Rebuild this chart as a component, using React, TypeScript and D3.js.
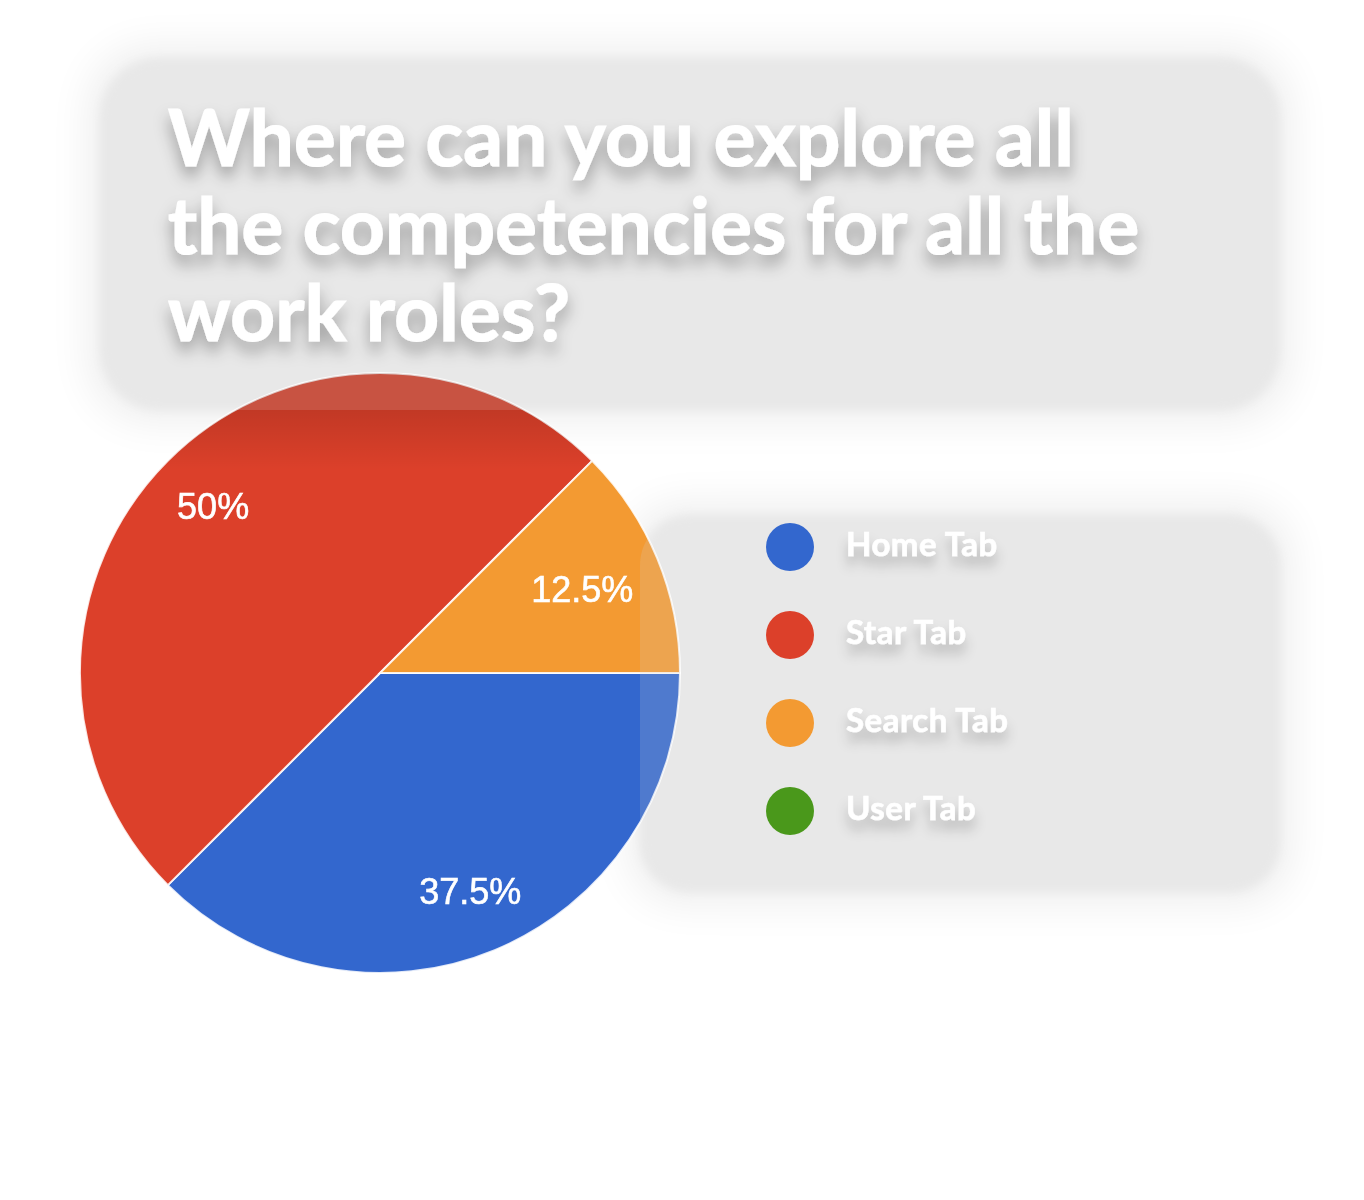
import React, { useEffect } from 'react';
import * as d3 from 'd3';

// chart data
const categories = ['Home Tab', 'Star Tab', 'Search Tab', 'User Tab'];
const shares = [37.5, 50, 12.5, 0];
const sliceColors = ['#3367ce', '#dc402a', '#f39a32', '#4a981b'];
const titleLines = ['Where can you explore all', 'the competencies for all the', 'work roles?'];

const W = 1364;
const H = 1200;
const LABEL_SIZE = 36;

// rough Arial advance widths, enough to keep a label inside its slice
const glyphWidth = (ch: string) => (ch === '.' ? 0.278 : ch === '%' ? 0.889 : 0.556);
const labelWidth = (s: string) => s.split('').reduce((a, c) => a + glyphWidth(c), 0) * LABEL_SIZE;

export default function App() {
  useEffect(() => {
    document.body.style.margin = '0';
  }, []);

  const cx = 380;
  const cy = 673;
  const radius = 300;

  const pie = d3.pie<number>()
    .value((d) => d)
    .sort(null)
    .startAngle(Math.PI / 2)
    .endAngle(Math.PI / 2 + Math.PI * 2);
  const slices = pie(shares);

  const arc = d3.arc<d3.PieArcDatum<number>>().innerRadius(0).outerRadius(radius);
  const disc = d3.arc()({ innerRadius: 0, outerRadius: radius, startAngle: 0, endAngle: Math.PI * 2 }) || '';

  // label sits on the bisector, pulled inwards until its box clears the rim
  const labelPos = (s: d3.PieArcDatum<number>, text: string) => {
    const mid = (s.startAngle + s.endAngle) / 2;
    const w = labelWidth(text);
    const h = LABEL_SIZE * 0.72;
    let t = radius * 0.79;
    const far = (tt: number) => {
      const x = Math.sin(mid) * tt;
      const y = -Math.cos(mid) * tt;
      return Math.max(
        ...[[-1, -1], [-1, 1], [1, -1], [1, 1]].map(([a, b]) => Math.hypot(x + (a * w) / 2, y + (b * h) / 2))
      );
    };
    while (far(t) > radius * 0.905 && t > 100) t -= 1;
    return [Math.sin(mid) * t, -Math.cos(mid) * t];
  };

  // legend rows
  const legendY = d3.scalePoint<string>().domain(categories).range([547, 811]);

  const titlePanel = { x: 100, y: 58, w: 1180, h: 352, r: 60 };
  const legendPanel = { x: 640, y: 515, w: 640, h: 377, r: 50 };

  return (
    <svg width={W} height={H} viewBox={`0 0 ${W} ${H}`} style={{ display: 'block' }}>
      <defs>
        <filter id="halo" x="-20%" y="-30%" width="140%" height="160%">
          <feGaussianBlur stdDeviation="22" />
        </filter>
        <filter id="soft" x="-10%" y="-10%" width="120%" height="120%">
          <feGaussianBlur stdDeviation="5" />
        </filter>
        <filter id="textShadow" x="-10%" y="-30%" width="120%" height="180%">
          <feDropShadow dx="0" dy="10" stdDeviation="8" floodColor="#000" floodOpacity="0.32" />
        </filter>
        <filter id="legendShadow" x="-10%" y="-40%" width="120%" height="200%">
          <feDropShadow dx="0" dy="10" stdDeviation="6" floodColor="#000" floodOpacity="0.22" />
        </filter>
        <filter id="labelBlur">
          <feGaussianBlur stdDeviation="0.6" />
        </filter>
        <clipPath id="pieClip">
          <path d={disc} transform={`translate(${cx},${cy})`} />
        </clipPath>
        <linearGradient id="panelShade" x1="0" y1="0" x2="0" y2="1">
          <stop offset="0" stopColor="#000" stopOpacity={0.12} />
          <stop offset="1" stopColor="#000" stopOpacity={0} />
        </linearGradient>
      </defs>

      <rect width={W} height={H} fill="#ffffff" />

      {/* panels behind the chart */}
      {[titlePanel, legendPanel].map((p, i) => (
        <g key={i}>
          <rect x={p.x - 10} y={p.y - 10} width={p.w + 20} height={p.h + 20} rx={p.r}
            fill="#000" opacity={0.07} filter="url(#halo)" />
          <rect x={p.x} y={p.y} width={p.w} height={p.h} rx={p.r}
            fill="#e8e8e8" filter="url(#soft)" />
        </g>
      ))}

      {/* pie */}
      <g transform={`translate(${cx},${cy})`}>
        {slices.map((s, i) => (
          <path key={categories[i]} d={arc(s) || ''} fill={sliceColors[i]}
            stroke="#ffffff" strokeWidth={s.value > 0 ? 2 : 0} strokeOpacity={0.85} />
        ))}
      </g>

      {/* frosted overlays of the panels where they cross the pie */}
      <g clipPath="url(#pieClip)">
        <rect x={titlePanel.x} y={titlePanel.y} width={titlePanel.w} height={titlePanel.h} rx={titlePanel.r}
          fill="#8a8a8a" opacity={0.25} />
        <rect x={titlePanel.x} y={titlePanel.y + titlePanel.h} width={titlePanel.w} height={60}
          fill="url(#panelShade)" />
        <rect x={legendPanel.x} y={legendPanel.y} width={legendPanel.w} height={legendPanel.h} rx={legendPanel.r}
          fill="#d4d4d4" opacity={0.18} />
      </g>

      {/* slice labels */}
      <g transform={`translate(${cx},${cy})`} filter="url(#labelBlur)">
        {slices.filter((s) => s.value > 0).map((s) => {
          const text = `${s.value}%`;
          const [lx, ly] = labelPos(s, text);
          return (
            <text key={s.index} x={lx} y={ly} dy="0.36em" textAnchor="middle"
              fontFamily="'Liberation Sans', Arial, sans-serif" fontSize={LABEL_SIZE} fill="#ffffff"
              stroke="#ffffff" strokeWidth={0.6}>
              {text}
            </text>
          );
        })}
      </g>

      {/* title */}
      <g filter="url(#textShadow)">
        {titleLines.map((line, i) => (
          <text key={i} x={168} y={166 + i * 87.5} fontFamily="Lato, sans-serif" fontWeight={700}
            fontSize={78} letterSpacing={0.3} fill="#ffffff" stroke="#ffffff" strokeWidth={1.2}>
            {line}
          </text>
        ))}
      </g>

      {/* legend */}
      <g>
        {categories.map((c, i) => (
          <g key={c} transform={`translate(0,${legendY(c)})`}>
            <circle cx={790} cy={0} r={24} fill={sliceColors[i]} />
            <text x={846} y={9} fontFamily="Lato, sans-serif" fontWeight={700} fontSize={33}
              letterSpacing={0.5} fill="#ffffff" stroke="#ffffff" strokeWidth={0.6}
              filter="url(#legendShadow)">
              {c}
            </text>
          </g>
        ))}
      </g>
    </svg>
  );
}
